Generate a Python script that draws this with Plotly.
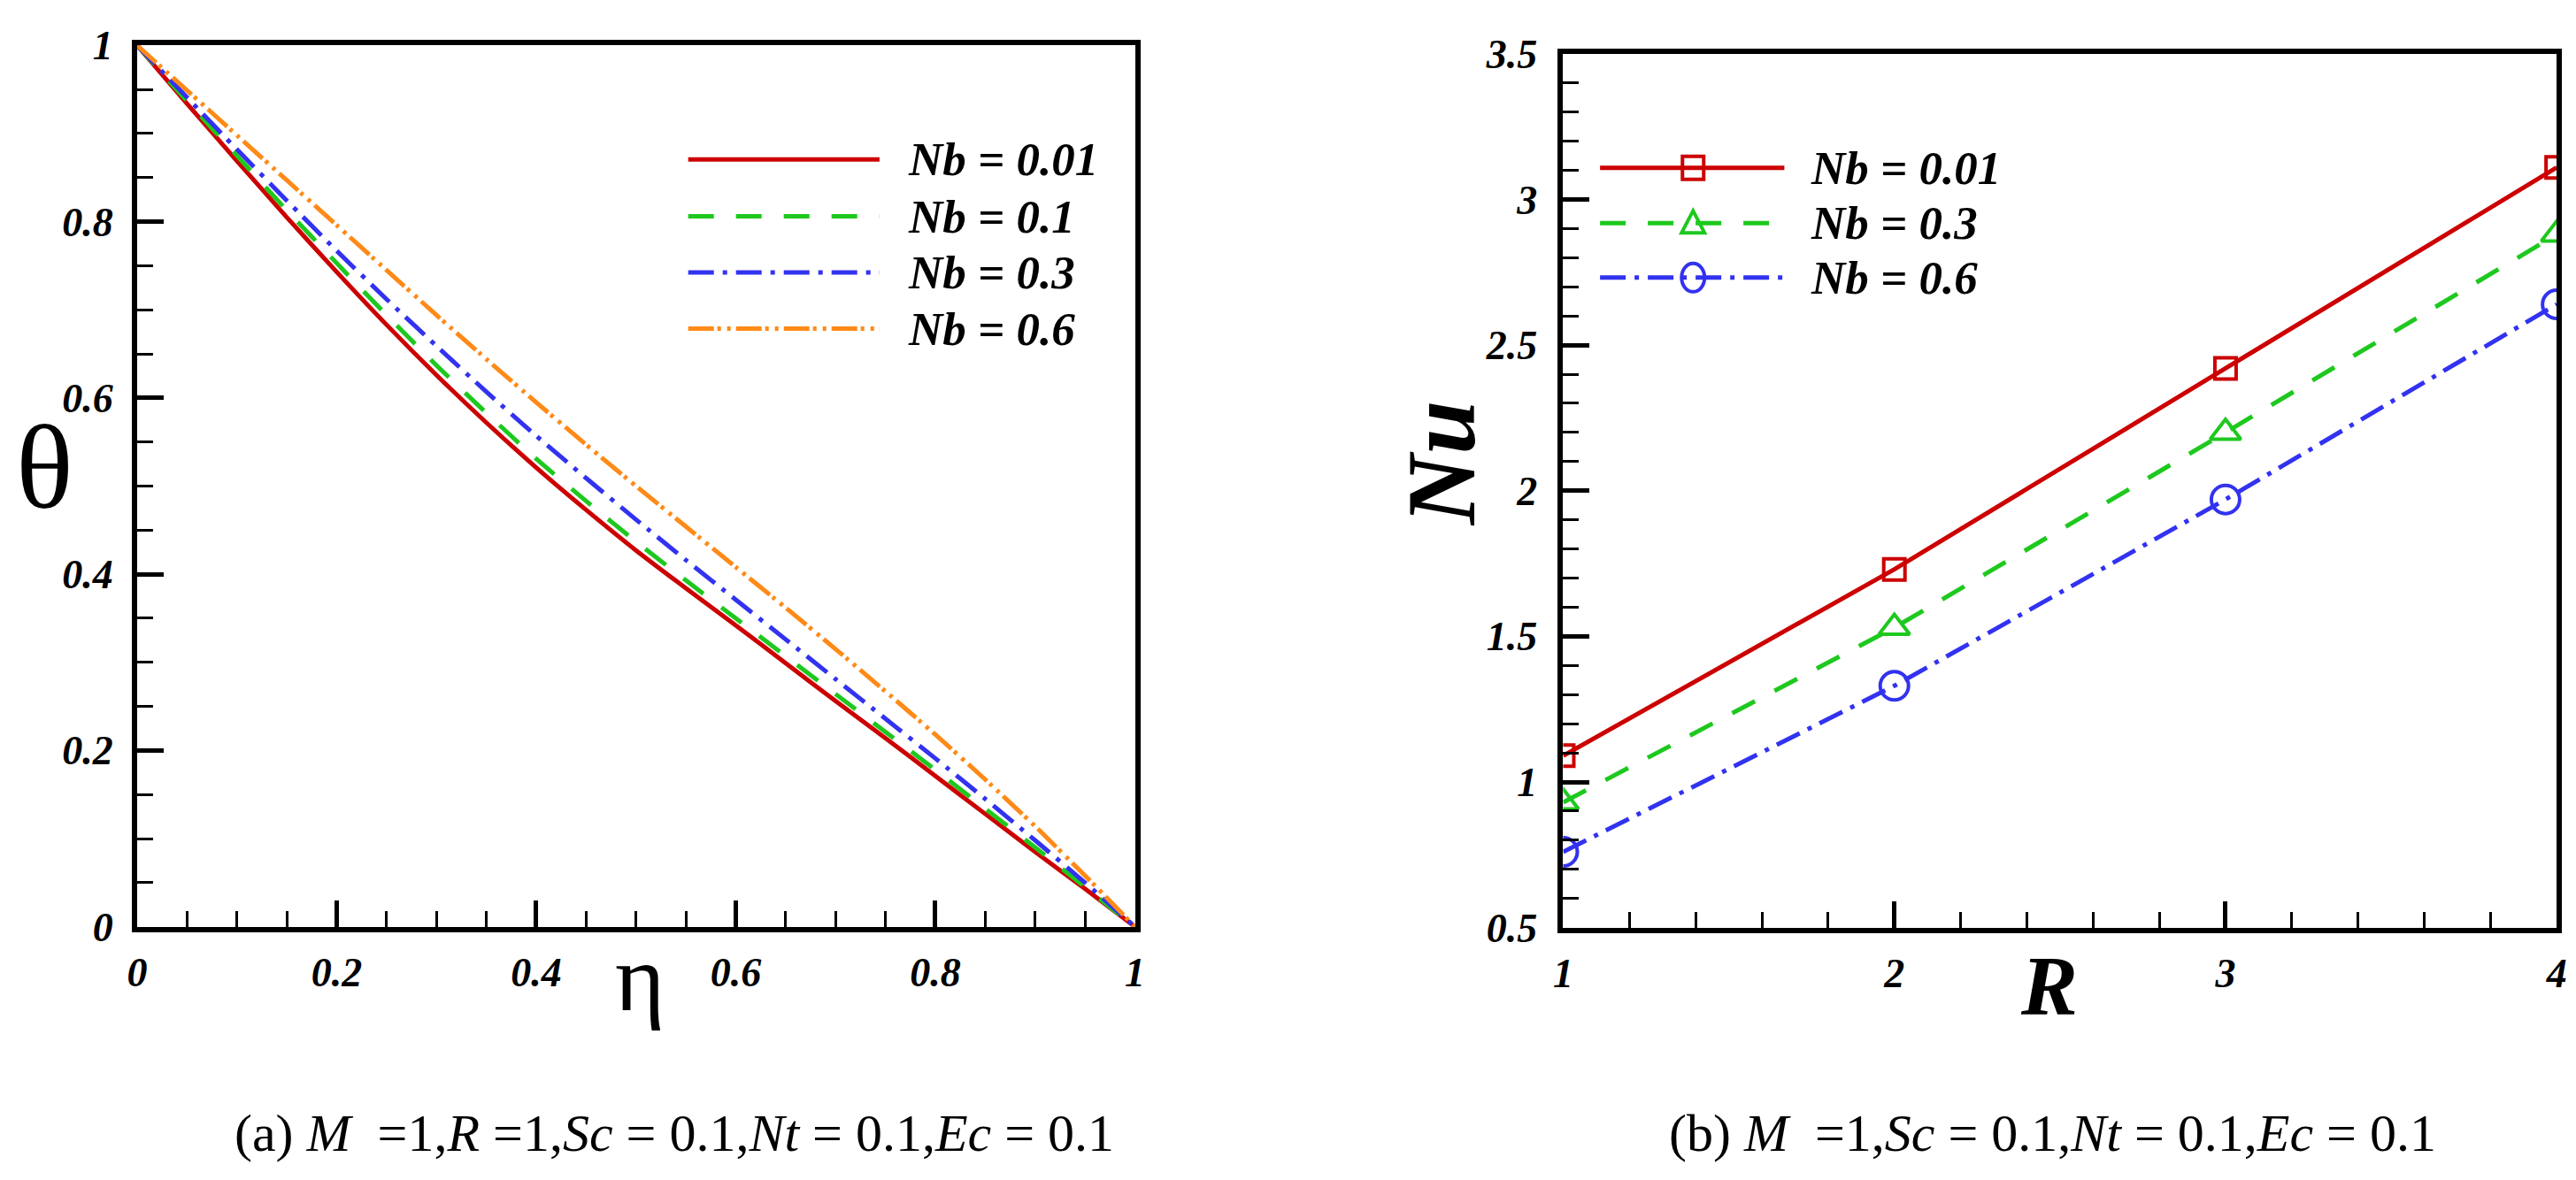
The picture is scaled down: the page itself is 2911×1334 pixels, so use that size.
import plotly.graph_objects as go

# ---------------- data ----------------
eta = [0.0, 0.05, 0.1, 0.15, 0.2, 0.25, 0.3, 0.35, 0.4, 0.45, 0.5,
       0.55, 0.6, 0.65, 0.7, 0.75, 0.8, 0.85, 0.9, 0.95, 1.0]
theta_nb001 = [1.0, 0.934, 0.869, 0.805, 0.743, 0.683, 0.626, 0.572, 0.521, 0.473, 0.427,
               0.384, 0.342, 0.299, 0.256, 0.214, 0.171, 0.128, 0.085, 0.043, 0.0]
theta_nb01 = [1.0, 0.937, 0.875, 0.813, 0.753, 0.694, 0.637, 0.583, 0.531, 0.483, 0.437,
              0.393, 0.350, 0.307, 0.264, 0.221, 0.178, 0.134, 0.090, 0.045, 0.0]
theta_nb03 = [1.0, 0.941, 0.882, 0.824, 0.767, 0.712, 0.659, 0.607, 0.557, 0.509, 0.462,
              0.416, 0.371, 0.326, 0.281, 0.236, 0.191, 0.145, 0.098, 0.050, 0.0]
theta_nb06 = [1.0, 0.949, 0.898, 0.847, 0.796, 0.745, 0.694, 0.644, 0.595, 0.547, 0.500,
              0.454, 0.408, 0.362, 0.315, 0.267, 0.218, 0.167, 0.114, 0.058, 0.0]

R_vals = [1, 2, 3, 4]
nu_nb001 = [1.09, 1.73, 2.42, 3.11]
nu_nb03 = [0.93, 1.53, 2.20, 2.88]
nu_nb06 = [0.76, 1.33, 1.97, 2.64]

left_labels = ["Nb = 0.01", "Nb = 0.1", "Nb = 0.3", "Nb = 0.6"]
right_labels = ["Nb = 0.01", "Nb = 0.3", "Nb = 0.6"]
caption_a = ("(a) <i>M</i>\u00a0\u00a0=1,<i>R</i>\u00a0=1,<i>Sc</i>\u00a0=\u00a00.1,"
             "<i>Nt</i>\u00a0=\u00a00.1,<i>Ec</i>\u00a0=\u00a00.1")
caption_b = ("(b) <i>M</i>\u00a0\u00a0=1,<i>Sc</i>\u00a0=\u00a00.1,"
             "<i>Nt</i>\u00a0=\u00a00.1,<i>Ec</i>\u00a0=\u00a00.1")

# ---------------- style ----------------
W, H = 2911, 1334
RED, GREEN, BLUE, ORANGE = "#CC0000", "#1EC81E", "#3232F0", "#FF8A17"
DASH_G = "29px,25px"
DASH_B = "29px,10px,5px,10px"
DASH_O = "29px,4px,4px,7px,4px,6px"
FONT = "Liberation Serif"
LW = 5

def px(x):
    return x / W

def py(y):
    return 1 - y / H

fig = go.Figure()

left_series = [(theta_nb001, RED, "solid"), (theta_nb01, GREEN, DASH_G),
               (theta_nb03, BLUE, DASH_B), (theta_nb06, ORANGE, DASH_O)]
for (vals, col, dash), name in zip(left_series, left_labels):
    fig.add_trace(go.Scatter(x=eta, y=vals, mode="lines", name=name,
                             line=dict(color=col, width=LW, dash=dash, shape="spline",
                                       smoothing=0.6),
                             xaxis="x", yaxis="y", showlegend=False))

right_series = [(nu_nb001, RED, "solid", "square-open", 24),
                (nu_nb03, GREEN, DASH_G, "triangle-up-open", 30),
                (nu_nb06, BLUE, DASH_B, "circle-open", 32)]
for (vals, col, dash, sym, sz), name in zip(right_series, right_labels):
    fig.add_trace(go.Scatter(x=R_vals, y=vals, mode="lines+markers", name=name,
                             line=dict(color=col, width=LW, dash=dash),
                             marker=dict(symbol=sym, size=sz, color=col,
                                         line=dict(color=col, width=4)),
                             xaxis="x2", yaxis="y2", showlegend=False))

tickfont = dict(family=FONT, size=46, color="black", weight="bold", style="italic")
common = dict(showgrid=False, zeroline=False, showline=True, linecolor="black",
              linewidth=6, mirror=True, ticks="inside", tickcolor="black",
              tickwidth=5, ticklen=30, tickfont=tickfont)

fig.update_layout(
    width=W, height=H, margin=dict(l=0, r=0, t=0, b=0),
    paper_bgcolor="white", plot_bgcolor="white", showlegend=False,
    xaxis=dict(domain=[px(136), px(1273)], range=[0, 1], dtick=0.2, tick0=0,
               ticklabelstandoff=6, anchor="y",
               minor=dict(ticks="inside", ticklen=18, tickwidth=3, tickcolor="black",
                          dtick=0.05, showgrid=False), **common),
    yaxis=dict(domain=[py(1055), py(19)], range=[0, 1], dtick=0.2, tick0=0,
               ticklabelstandoff=12, anchor="x",
               minor=dict(ticks="inside", ticklen=18, tickwidth=3, tickcolor="black",
                          dtick=0.05, showgrid=False), **common),
    xaxis2=dict(domain=[px(1761), px(2893)], range=[1, 4], dtick=1, tick0=1,
                ticklabelstandoff=6, anchor="y2",
                minor=dict(ticks="inside", ticklen=18, tickwidth=3, tickcolor="black",
                           dtick=0.2, showgrid=False), **common),
    yaxis2=dict(domain=[py(1056), py(29)], range=[0.5, 3.5], dtick=0.5, tick0=0.5,
                ticklabelstandoff=14, anchor="x2",
                minor=dict(ticks="inside", ticklen=18, tickwidth=3, tickcolor="black",
                           dtick=0.1, showgrid=False), **common),
)

shapes = []
annotations = []

# left legend (drawn manually to match long line samples)
left_rows = [153, 220, 286, 352]
for (vals, col, dash), name, yy in zip(left_series, left_labels, left_rows):
    shapes.append(dict(type="line", xref="paper", yref="paper",
                       x0=px(764), x1=px(982), y0=py(yy), y1=py(yy),
                       line=dict(color=col, width=LW, dash=dash)))
    annotations.append(dict(xref="paper", yref="paper", x=px(1012), y=py(yy),
                            xanchor="left", yanchor="middle", showarrow=False,
                            text="<b><i>%s</i></b>" % name,
                            font=dict(family=FONT, size=53, color="black")))

# right legend
right_rows = [163, 228, 292]
for (vals, col, dash, sym, sz), name, yy in zip(right_series, right_labels, right_rows):
    shapes.append(dict(type="line", xref="paper", yref="paper",
                       x0=px(1803), x1=px(2013), y0=py(yy), y1=py(yy),
                       line=dict(color=col, width=LW, dash=dash)))
    mx, my = px(1909), py(yy)
    base = dict(xref="paper", yref="paper", xsizemode="pixel", ysizemode="pixel",
                xanchor=mx, yanchor=my, line=dict(color=col, width=4),
                fillcolor="rgba(0,0,0,0)")
    if sym.startswith("square"):
        shapes.append(dict(type="rect", x0=-12, x1=12, y0=-13, y1=13, **base))
    elif sym.startswith("triangle"):
        shapes.append(dict(type="path", path="M -13 -11 L 13 -11 L 0 14 Z", **base))
    else:
        shapes.append(dict(type="circle", x0=-13, x1=13, y0=-16, y1=16, **base))
    annotations.append(dict(xref="paper", yref="paper", x=px(2041), y=py(yy),
                            xanchor="left", yanchor="middle", showarrow=False,
                            text="<b><i>%s</i></b>" % name,
                            font=dict(family=FONT, size=53, color="black")))

# axis titles
annotations += [
    dict(xref="paper", yref="paper", x=px(31), y=py(515), text="θ", showarrow=False,
         xanchor="center", yanchor="middle", font=dict(family=FONT, size=135, color="black")),
    dict(xref="paper", yref="paper", x=px(709), y=py(1115), text="η", showarrow=False,
         xanchor="center", yanchor="middle", font=dict(family=FONT, size=108, color="black")),
    dict(xref="paper", yref="paper", x=px(1622), y=py(510), text="<b><i>Nu</i></b>",
         showarrow=False, textangle=-90, xanchor="center", yanchor="middle",
         font=dict(family=FONT, size=110, color="black")),
    dict(xref="paper", yref="paper", x=px(2315), y=py(1125), text="<b><i>R</i></b>",
         showarrow=False, xanchor="center", yanchor="middle",
         font=dict(family=FONT, size=96, color="black")),
    dict(xref="paper", yref="paper", x=px(748), y=py(1298), text=caption_a,
         showarrow=False, xanchor="center", yanchor="middle",
         font=dict(family=FONT, size=60, color="black")),
    dict(xref="paper", yref="paper", x=px(2319), y=py(1298), text=caption_b,
         showarrow=False, xanchor="center", yanchor="middle",
         font=dict(family=FONT, size=60, color="black")),
]

fig.update_layout(shapes=shapes, annotations=annotations)
fig.write_html("out.html")
